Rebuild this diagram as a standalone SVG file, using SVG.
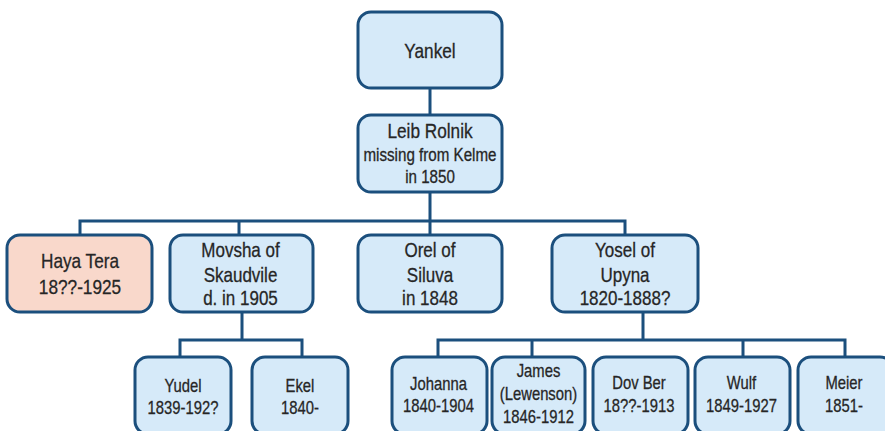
<svg xmlns="http://www.w3.org/2000/svg" width="885" height="431" viewBox="0 0 885 431">
  <style>
    .box { fill: #d6eaf9; stroke: #1b4f7d; stroke-width: 3; }
    .box.f { fill: #f9d8cb; }
    .wire { fill: none; stroke: #1b4f7d; stroke-width: 3; stroke-linejoin: miter; }
    text { font-family: "Liberation Sans", Arial, sans-serif; fill: #262626; stroke: #262626; stroke-width: 0.3; text-anchor: middle; }
    .lg { font-size: 21px; }
    .md { font-size: 18.5px; }
    .sm { font-size: 18.5px; }
  </style>

  <!-- connectors -->
  <g id="connectors" class="wire">
    <path d="M430 88V115"/>
    <path d="M430 192V221M80 236V221H625V236M239 221V236M430 221V236"/>
    <path d="M242 312V340M180 358V340H302V358"/>
    <path d="M643 312V340M438 358V340H845V358M532 340V358M743 340V358"/>
  </g>

  <!-- generation 1 -->
  <g id="yankel">
    <rect class="box" x="358" y="12" width="144" height="76" rx="13"/>
    <text class="lg" transform="translate(430 0) scale(0.82 1)"><tspan x="0" y="58">Yankel</tspan></text>
  </g>

  <!-- generation 2 -->
  <g id="leib-rolnik">
    <rect class="box" x="358" y="115" width="144" height="77" rx="13"/>
    <text transform="translate(430 0) scale(0.82 1)"><tspan class="lg" x="0" y="138">Leib Rolnik</tspan><tspan class="md" x="0" y="161">missing from Kelme</tspan><tspan class="md" x="0" y="183">in 1850</tspan></text>
  </g>

  <!-- generation 3 -->
  <g id="haya-tera">
    <rect class="box f" x="7" y="235" width="145" height="77" rx="13"/>
    <text class="lg" transform="translate(80 0) scale(0.82 1)"><tspan x="0" y="268">Haya Tera</tspan><tspan x="0" y="294">18??-1925</tspan></text>
  </g>
  <g id="movsha">
    <rect class="box" x="170" y="235" width="143" height="77" rx="13"/>
    <text class="lg" transform="translate(240.5 0) scale(0.81 1)"><tspan x="0" y="257">Movsha of</tspan><tspan x="0" y="282">Skaudvile</tspan><tspan x="0" y="305.5">d. in 1905</tspan></text>
  </g>
  <g id="orel">
    <rect class="box" x="358" y="235" width="144" height="77" rx="13"/>
    <text class="lg" transform="translate(430 0) scale(0.81 1)"><tspan x="0" y="257">Orel of</tspan><tspan x="0" y="282">Siluva</tspan><tspan x="0" y="305.5">in 1848</tspan></text>
  </g>
  <g id="yosel">
    <rect class="box" x="552" y="235" width="146" height="77" rx="13"/>
    <text class="lg" transform="translate(625 0) scale(0.81 1)"><tspan x="0" y="257">Yosel of</tspan><tspan x="0" y="282">Upyna</tspan><tspan x="0" y="305.5">1820-1888?</tspan></text>
  </g>

  <!-- generation 4 -->
  <g id="yudel">
    <rect class="box" x="135" y="357" width="96" height="77" rx="13"/>
    <text class="sm" transform="translate(183 0) scale(0.8 1)"><tspan x="0" y="392">Yudel</tspan><tspan x="0" y="414">1839-192?</tspan></text>
  </g>
  <g id="ekel">
    <rect class="box" x="252" y="357" width="96" height="77" rx="13"/>
    <text class="sm" transform="translate(300 0) scale(0.8 1)"><tspan x="0" y="392">Ekel</tspan><tspan x="0" y="414">1840-</tspan></text>
  </g>
  <g id="johanna">
    <rect class="box" x="392" y="357" width="95" height="77" rx="13"/>
    <text class="sm" transform="translate(438.5 0) scale(0.8 1)"><tspan x="0" y="390">Johanna</tspan><tspan x="0" y="412">1840-1904</tspan></text>
  </g>
  <g id="james">
    <rect class="box" x="492" y="357" width="93" height="77" rx="13"/>
    <text class="sm" transform="translate(538.5 0) scale(0.8 1)"><tspan x="0" y="377">James</tspan><tspan x="0" y="400">(Lewenson)</tspan><tspan x="0" y="423">1846-1912</tspan></text>
  </g>
  <g id="dov-ber">
    <rect class="box" x="593" y="357" width="95" height="77" rx="13"/>
    <text class="sm" transform="translate(639 0) scale(0.8 1)"><tspan x="0" y="389">Dov Ber</tspan><tspan x="0" y="412">18??-1913</tspan></text>
  </g>
  <g id="wulf">
    <rect class="box" x="695" y="357" width="95" height="77" rx="13"/>
    <text class="sm" transform="translate(741.5 0) scale(0.8 1)"><tspan x="0" y="389">Wulf</tspan><tspan x="0" y="412">1849-1927</tspan></text>
  </g>
  <g id="meier">
    <rect class="box" x="798" y="357" width="95" height="77" rx="13"/>
    <text class="sm" transform="translate(844 0) scale(0.8 1)"><tspan x="0" y="389">Meier</tspan><tspan x="0" y="412">1851-</tspan></text>
  </g>
</svg>
